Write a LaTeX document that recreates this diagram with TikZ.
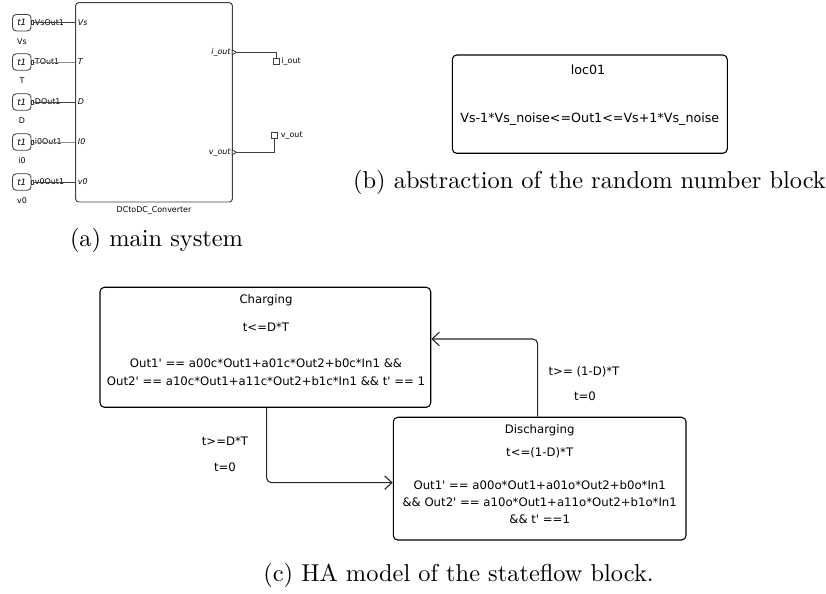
\documentclass[tikz,border=0pt]{standalone}
\usepackage{fontspec}
\newfontfamily\djfont{DejaVu Sans}
\usetikzlibrary{arrows.meta}
\def\pxu{0.41pt}
\tikzset{
  x=0.41pt, y=-0.41pt,
  habox/.style={draw=black, line width=0.45pt, rounded corners=1.8pt, inner sep=0pt},
  hatxt/.style={font=\djfont\fontsize{4.8}{7.2}\selectfont, inner sep=0pt, align=center},
  loctxt/.style={font=\djfont\fontsize{5.2}{7}\selectfont, inner sep=0pt, align=center},
  slk/.style={font=\djfont\fontsize{3.25}{3.8}\selectfont, inner sep=0pt},
  slki/.style={font=\djfont\itshape\fontsize{3.25}{3.8}\selectfont, inner sep=0pt},
  srcbox/.style={draw=black!75, line width=0.35pt, rounded corners=1.5pt, minimum width=18.5*\pxu, minimum height=16.5*\pxu, inner sep=0pt},
  portsq/.style={draw=black!75, line width=0.3pt, minimum width=1.8*\pxu, minimum height=4*\pxu, inner sep=0pt},
  outsq/.style={draw=black!75, line width=0.35pt, minimum width=6*\pxu, minimum height=6*\pxu, inner sep=0pt},
  wire/.style={draw=black!75, line width=0.35pt},
  arr/.style={draw=black!85, line width=0.45pt, rounded corners=2pt, -{Straight Barb[length=3pt,width=5.5pt]}},
  capt/.style={inner sep=0pt, font=\normalfont}
}
\begin{document}
\begin{tikzpicture}
\useasboundingbox (0,0) rectangle (826,594);

% ---------------- (a) main system ----------------
\node[draw=black!75, line width=0.4pt, rounded corners=1.2pt, minimum width=156.6*\pxu, minimum height=199.3*\pxu, inner sep=0pt] (blk) at (154,102.35) {};
\node[slk] (blkname) at (154,210) {DCtoDC\_Converter};

% sources
\foreach \i/\yy/\nm/\pl/\lab/\col in {1/22.7/VsOut1/Vs/Vs/black!75, 2/62/TOut1/T/T/black!45, 3/102/DOut1/D/D/black!75, 4/142/i0Out1/I0/i0/black!45, 5/182/v0Out1/v0/v0/black!75}{
  \node[srcbox] (s\i) at (21.8,\yy) {};
  \node[slki, font=\djfont\itshape\fontsize{3.6}{4}\selectfont] (st\i) at (21.8,\yy) {t1};
  \node[portsq, anchor=west] (p\i) at (31.4,\yy) {};
  \node[slk, anchor=west] (sl\i) at (34.5,\yy) {\nm};
  \node[slk] (sn\i) at (22,\yy+18.5) {\lab};
  \node[slki, anchor=west] (ip\i) at (77.5,\yy) {\pl};
  \draw[wire, draw=\col] (p\i.east) -- (blk.west |- p\i.east);
}

% outputs
\coordinate (oa) at (236.5,52.3);
\coordinate (ob) at (236.5,152.3);
\draw[wire, fill=white] (232.3,49.9) -- (oa) -- (232.3,54.7) -- cycle;
\draw[wire, fill=white] (232.3,149.9) -- (ob) -- (232.3,154.7) -- cycle;
\node[slki, anchor=east] (il) at (231,52.3) {i\_out};
\node[slki, anchor=east] (vl) at (231,152.3) {v\_out};
\node[outsq] (o1) at (276.3,61) {};
\node[outsq] (o2) at (274.5,135.7) {};
\node[slk, anchor=west] (o1l) at (281,61) {i\_out};
\node[slk, anchor=west] (o2l) at (280.5,135.7) {v\_out};
\draw[wire] (oa) -| (o1.north);
\draw[wire] (ob) -| (o2.south);

\node[capt] (capa) at (156.5,240) {(a) main system};

% ---------------- (b) random number block ----------------
\node[habox, minimum width=275*\pxu, minimum height=98.3*\pxu] (loc) at (589.8,104.15) {};
\node[loctxt] (locname) at (588,69.5) {loc01};
\node[loctxt] (locinv) at (589.8,119.3) {Vs-1*Vs\_noise<=Out1<=Vs+1*Vs\_noise};
\node[capt] (capb) at (589.5,182) {(b) abstraction of the random number block};

% ---------------- (c) HA model ----------------
\node[habox, minimum width=330.7*\pxu, minimum height=120*\pxu] (chg) at (265.35,347.3) {};
\node[hatxt] (chgname) at (266,300.7) {Charging};
\node[hatxt] (chginv) at (266,326.7) {t<=D*T};
\node[hatxt, font=\djfont\fontsize{4.8}{7.4}\selectfont] (chgflow) at (266,371.7) {Out1' == a00c*Out1+a01c*Out2+b0c*In1 \&\&\\Out2' == a10c*Out1+a11c*Out2+b1c*In1 \&\& t' == 1};

\node[habox, minimum width=292.7*\pxu, minimum height=122.7*\pxu] (dis) at (539.65,478.65) {};
\node[hatxt] (disname) at (539.7,430.7) {Discharging};
\node[hatxt] (disinv) at (539.7,453.3) {t<=(1-D)*T};
\node[hatxt, font=\djfont\fontsize{4.8}{6.85}\selectfont] (disflow) at (539.7,502.3) {Out1' == a00o*Out1+a01o*Out2+b0o*In1\\\&\& Out2' == a10o*Out1+a11o*Out2+b1o*In1\\\&\& t' ==1};

\draw[arr] ([xshift=1.2*\pxu]chg.south) |- ([yshift=-4*\pxu]dis.west);
\draw[arr] ([xshift=-2*\pxu]dis.north) |- ([yshift=8.3*\pxu]chg.east);

\node[hatxt] (g1) at (225,440.7) {t>=D*T};
\node[hatxt] (r1) at (225,467.3) {t=0};
\node[hatxt] (g2) at (584,371.7) {t>= (1-D)*T};
\node[hatxt] (r2) at (585,396) {t=0};

\node[capt] (capc) at (458.5,575) {(c) HA model of the stateflow block.};
\end{tikzpicture}
\end{document}
